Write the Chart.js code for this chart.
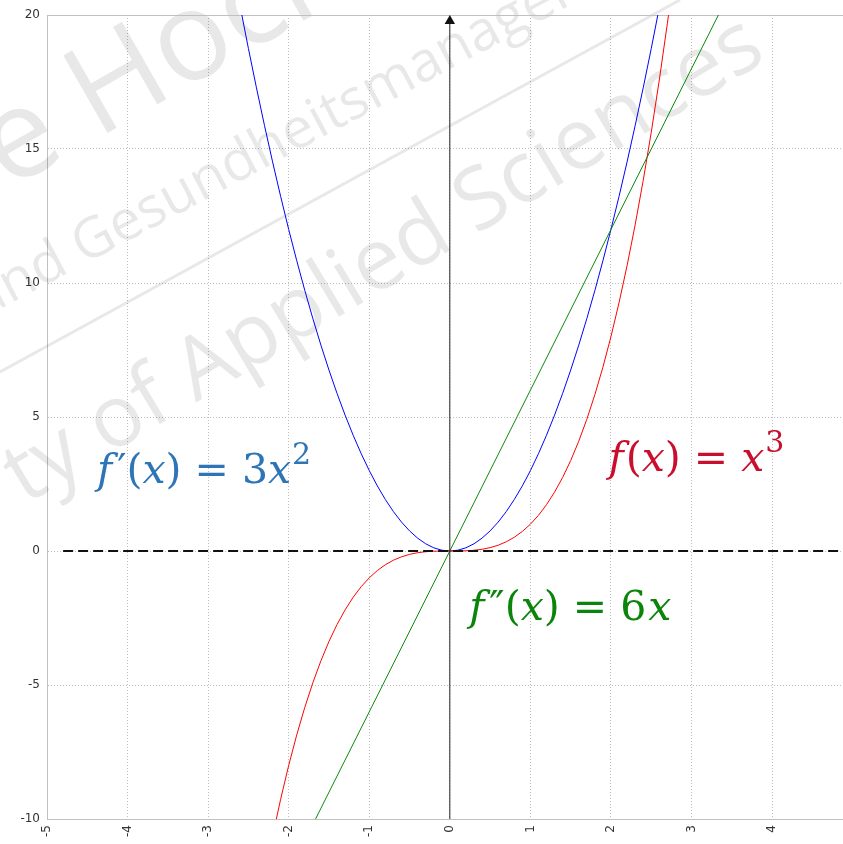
<!DOCTYPE html>
<html>
<head>
<meta charset="utf-8">
<script src="https://cdn.jsdelivr.net/npm/chart.js@4.4.1/dist/chart.umd.min.js"></script>
<style>
  html, body { margin: 0; padding: 0; background: #fff; }
  canvas { display: block; }
</style>
</head>
<body>
<canvas id="chart-1" width="843" height="844"></canvas>
<script>
// sample positions on the x axis
var x_values = [-2.8, -2.7, -2.6, -2.5, -2.4, -2.3, -2.2, -2.1, -2.0, -1.9, -1.8, -1.7, -1.6, -1.5, -1.4,
    -1.3, -1.2, -1.1, -1.0, -0.9, -0.8, -0.7, -0.6, -0.5, -0.4, -0.3, -0.2, -0.1, 0,
    0.1, 0.2, 0.3, 0.4, 0.5, 0.6, 0.7, 0.8, 0.9, 1.0, 1.1, 1.2, 1.3, 1.4, 1.5,
    1.6, 1.7, 1.8, 1.9, 2.0, 2.1, 2.2, 2.3, 2.4, 2.5, 2.6, 2.7, 2.8];

// f(x) = x^3
var f_values = [-21.952, -19.683, -17.576, -15.625, -13.824, -12.167, -10.648, -9.261, -8, -6.859, -5.832, -4.913, -4.096, -3.375, -2.744,
    -2.197, -1.728, -1.331, -1, -0.729, -0.512, -0.343, -0.216, -0.125, -0.064, -0.027, -0.008, -0.001, 0,
    0.001, 0.008, 0.027, 0.064, 0.125, 0.216, 0.343, 0.512, 0.729, 1, 1.331, 1.728, 2.197, 2.744, 3.375,
    4.096, 4.913, 5.832, 6.859, 8, 9.261, 10.648, 12.167, 13.824, 15.625, 17.576, 19.683, 21.952];

// f'(x) = 3x^2
var f1_values = [23.52, 21.87, 20.28, 18.75, 17.28, 15.87, 14.52, 13.23, 12, 10.83, 9.72, 8.67, 7.68, 6.75, 5.88,
    5.07, 4.32, 3.63, 3, 2.43, 1.92, 1.47, 1.08, 0.75, 0.48, 0.27, 0.12, 0.03, 0,
    0.03, 0.12, 0.27, 0.48, 0.75, 1.08, 1.47, 1.92, 2.43, 3, 3.63, 4.32, 5.07, 5.88, 6.75,
    7.68, 8.67, 9.72, 10.83, 12, 13.23, 14.52, 15.87, 17.28, 18.75, 20.28, 21.87, 23.52];

// f''(x) = 6x, a straight line
var f2_x = [-2, 3.5];
var f2_values = [-12, 21];

// dashed zero line and the vertical axis
var zero_x = [-4.8, 4.88];
var zero_y = [0, 0];
var axis_x = [0, 0];
var axis_y = [-10, 19.78];

// tick values shown on both axes
var x_ticks = [-5, -4, -3, -2, -1, 0, 1, 2, 3, 4];
var y_ticks = [-10, -5, 0, 5, 10, 15, 20];

function toPoints(xs, ys) {
    var pts = [];
    for (let i = 0; i < xs.length; i++) {
        pts.push({ x: xs[i], y: ys[i] });
    }
    return pts;
}

// light rotated lettering behind the curves
const watermark = {
    id: 'watermark',
    beforeDatasetsDraw(chart) {
        const ctx = chart.ctx;
        ctx.save();
        ctx.fillStyle = 'rgba(0,0,0,0.09)';
        ctx.strokeStyle = 'rgba(0,0,0,0.09)';
        ctx.textBaseline = 'alphabetic';

        ctx.save();
        ctx.translate(8, 190);
        ctx.rotate(-0.52);
        ctx.font = '125px "Open Sans"';
        ctx.fillText('e Hochschule', 0, 0);
        ctx.restore();

        ctx.save();
        ctx.translate(-20, 320);
        ctx.rotate(-0.49);
        ctx.font = '56px "Open Sans"';
        ctx.fillText('und Gesundheitsmanagement', 0, 0);
        ctx.restore();

        ctx.save();
        ctx.translate(25, 505);
        ctx.rotate(-0.54);
        ctx.font = '86px "Open Sans"';
        ctx.fillText('ty of Applied Sciences', 0, 0);
        ctx.restore();

        ctx.lineWidth = 3;
        ctx.beginPath();
        ctx.moveTo(0, 372);
        ctx.lineTo(680, 0);
        ctx.stroke();

        // top edge of the plot
        const area = chart.chartArea;
        ctx.strokeStyle = '#c0c0c0';
        ctx.lineWidth = 1;
        ctx.beginPath();
        ctx.moveTo(area.left, area.top + 0.5);
        ctx.lineTo(area.right, area.top + 0.5);
        ctx.stroke();
        ctx.restore();
    }
};

// formula labels next to each curve; part kinds: 0 upright, 1 italic, 2 superscript, 3 gap in px
var formula_labels = [
    { x: -4.38, y: 2.55, color: '#2e75b6', parts: [['f', 1], [5, 3], ['\u2032(', 0], ['x', 1], [')', 0], [13, 3], ['=', 0], [13, 3], ['3', 0], ['x', 1], [1, 3], ['2', 2]] },
    { x: 1.97, y: 2.99, color: '#c8102e', parts: [['f', 1], [2, 3], ['(', 0], ['x', 1], [')', 0], [13, 3], ['=', 0], [13, 3], ['x', 1], [1, 3], ['3', 2]] },
    { x: 0.24, y: -2.57, color: '#0b840b', parts: [['f', 1], [5, 3], ['\u2033(', 0], ['x', 1], [')', 0], [13, 3], ['=', 0], [13, 3], ['6', 0], [2, 3], ['x', 1]] }
];

const formulas = {
    id: 'formulas',
    afterDatasetsDraw(chart) {
        const ctx = chart.ctx;
        const size = 41;
        ctx.save();
        ctx.textBaseline = 'alphabetic';
        formula_labels.forEach(function(lbl) {
            let cx = chart.scales.x.getPixelForValue(lbl.x);
            const cy = chart.scales.y.getPixelForValue(lbl.y);
            ctx.fillStyle = lbl.color;
            lbl.parts.forEach(function(p) {
                if (p[1] === 3) {
                    cx += p[0];
                    return;
                }
                const sup = p[1] === 2;
                const s = sup ? Math.round(size * 0.72) : size;
                ctx.font = (p[1] === 1 ? 'italic ' : '') + s + 'px "DejaVu Serif"';
                ctx.fillText(p[0], cx, sup ? cy - size * 0.45 : cy);
                cx += ctx.measureText(p[0]).width;
            });
        });
        ctx.restore();
    }
};

const ctx = document.getElementById('chart-1').getContext('2d');
const myChart = new Chart(ctx, {
    type: 'scatter',
    data: {
        datasets: [{
            label: 'axis',
            data: toPoints(axis_x, axis_y),
            showLine: true,
            borderColor: '#222',
            backgroundColor: '#111',
            borderWidth: 1,
            pointStyle: 'triangle',
            pointRadius: [0, 6],
            pointBorderWidth: 0,
            clip: false,
        }, {
            label: 'zero',
            data: toPoints(zero_x, zero_y),
            showLine: true,
            borderColor: '#111',
            borderWidth: 2,
            borderDash: [10, 5],
            pointRadius: 0,
        }, {
            label: "f''(x) = 6x",
            data: toPoints(f2_x, f2_values),
            showLine: true,
            borderColor: '#0a8a0a',
            borderWidth: 1,
            pointRadius: 0,
        }, {
            label: 'f(x) = x^3',
            data: toPoints(x_values, f_values),
            showLine: true,
            borderColor: '#ff0000',
            borderWidth: 1,
            pointRadius: 0,
        }, {
            label: "f'(x) = 3x^2",
            data: toPoints(x_values, f1_values),
            showLine: true,
            borderColor: '#0000ff',
            borderWidth: 1,
            pointRadius: 0,
        }, ],
    },
    options: {
        responsive: false,
        animation: false,
        layout: {
            autoPadding: false,
            padding: { top: 15, right: 0, left: 0, bottom: 0 },
        },
        plugins: {
            legend: { display: false },
            tooltip: { enabled: false },
        },
        scales: {
            x: {
                type: 'linear',
                min: -5,
                max: 4.88,
                afterFit: function(scale) {
                    scale.height = 25;
                    scale.paddingRight = 0;
                    scale.paddingLeft = 0;
                },
                afterBuildTicks: function(scale) {
                    scale.ticks = x_ticks.map(function(v) { return { value: v }; });
                },
                grid: {
                    color: '#bdbdbd',
                    drawTicks: false,
                },
                border: {
                    color: '#c0c0c0',
                    dash: [1, 2],
                },
                ticks: {
                    minRotation: 90,
                    maxRotation: 90,
                    autoSkip: false,
                    padding: 6,
                    color: '#333',
                    font: { family: 'DejaVu Sans', size: 12 },
                },
            },
            y: {
                type: 'linear',
                min: -10,
                max: 20,
                afterFit: function(scale) { scale.width = 47; },
                afterBuildTicks: function(scale) {
                    scale.ticks = y_ticks.map(function(v) { return { value: v }; });
                },
                grid: {
                    color: '#bdbdbd',
                    drawTicks: false,
                },
                border: {
                    color: '#c0c0c0',
                    dash: [1, 2],
                },
                ticks: {
                    padding: 7,
                    color: '#333',
                    font: { family: 'DejaVu Sans', size: 12 },
                },
            },
        },
    },
    plugins: [watermark, formulas],
});
</script>
</body>
</html>
